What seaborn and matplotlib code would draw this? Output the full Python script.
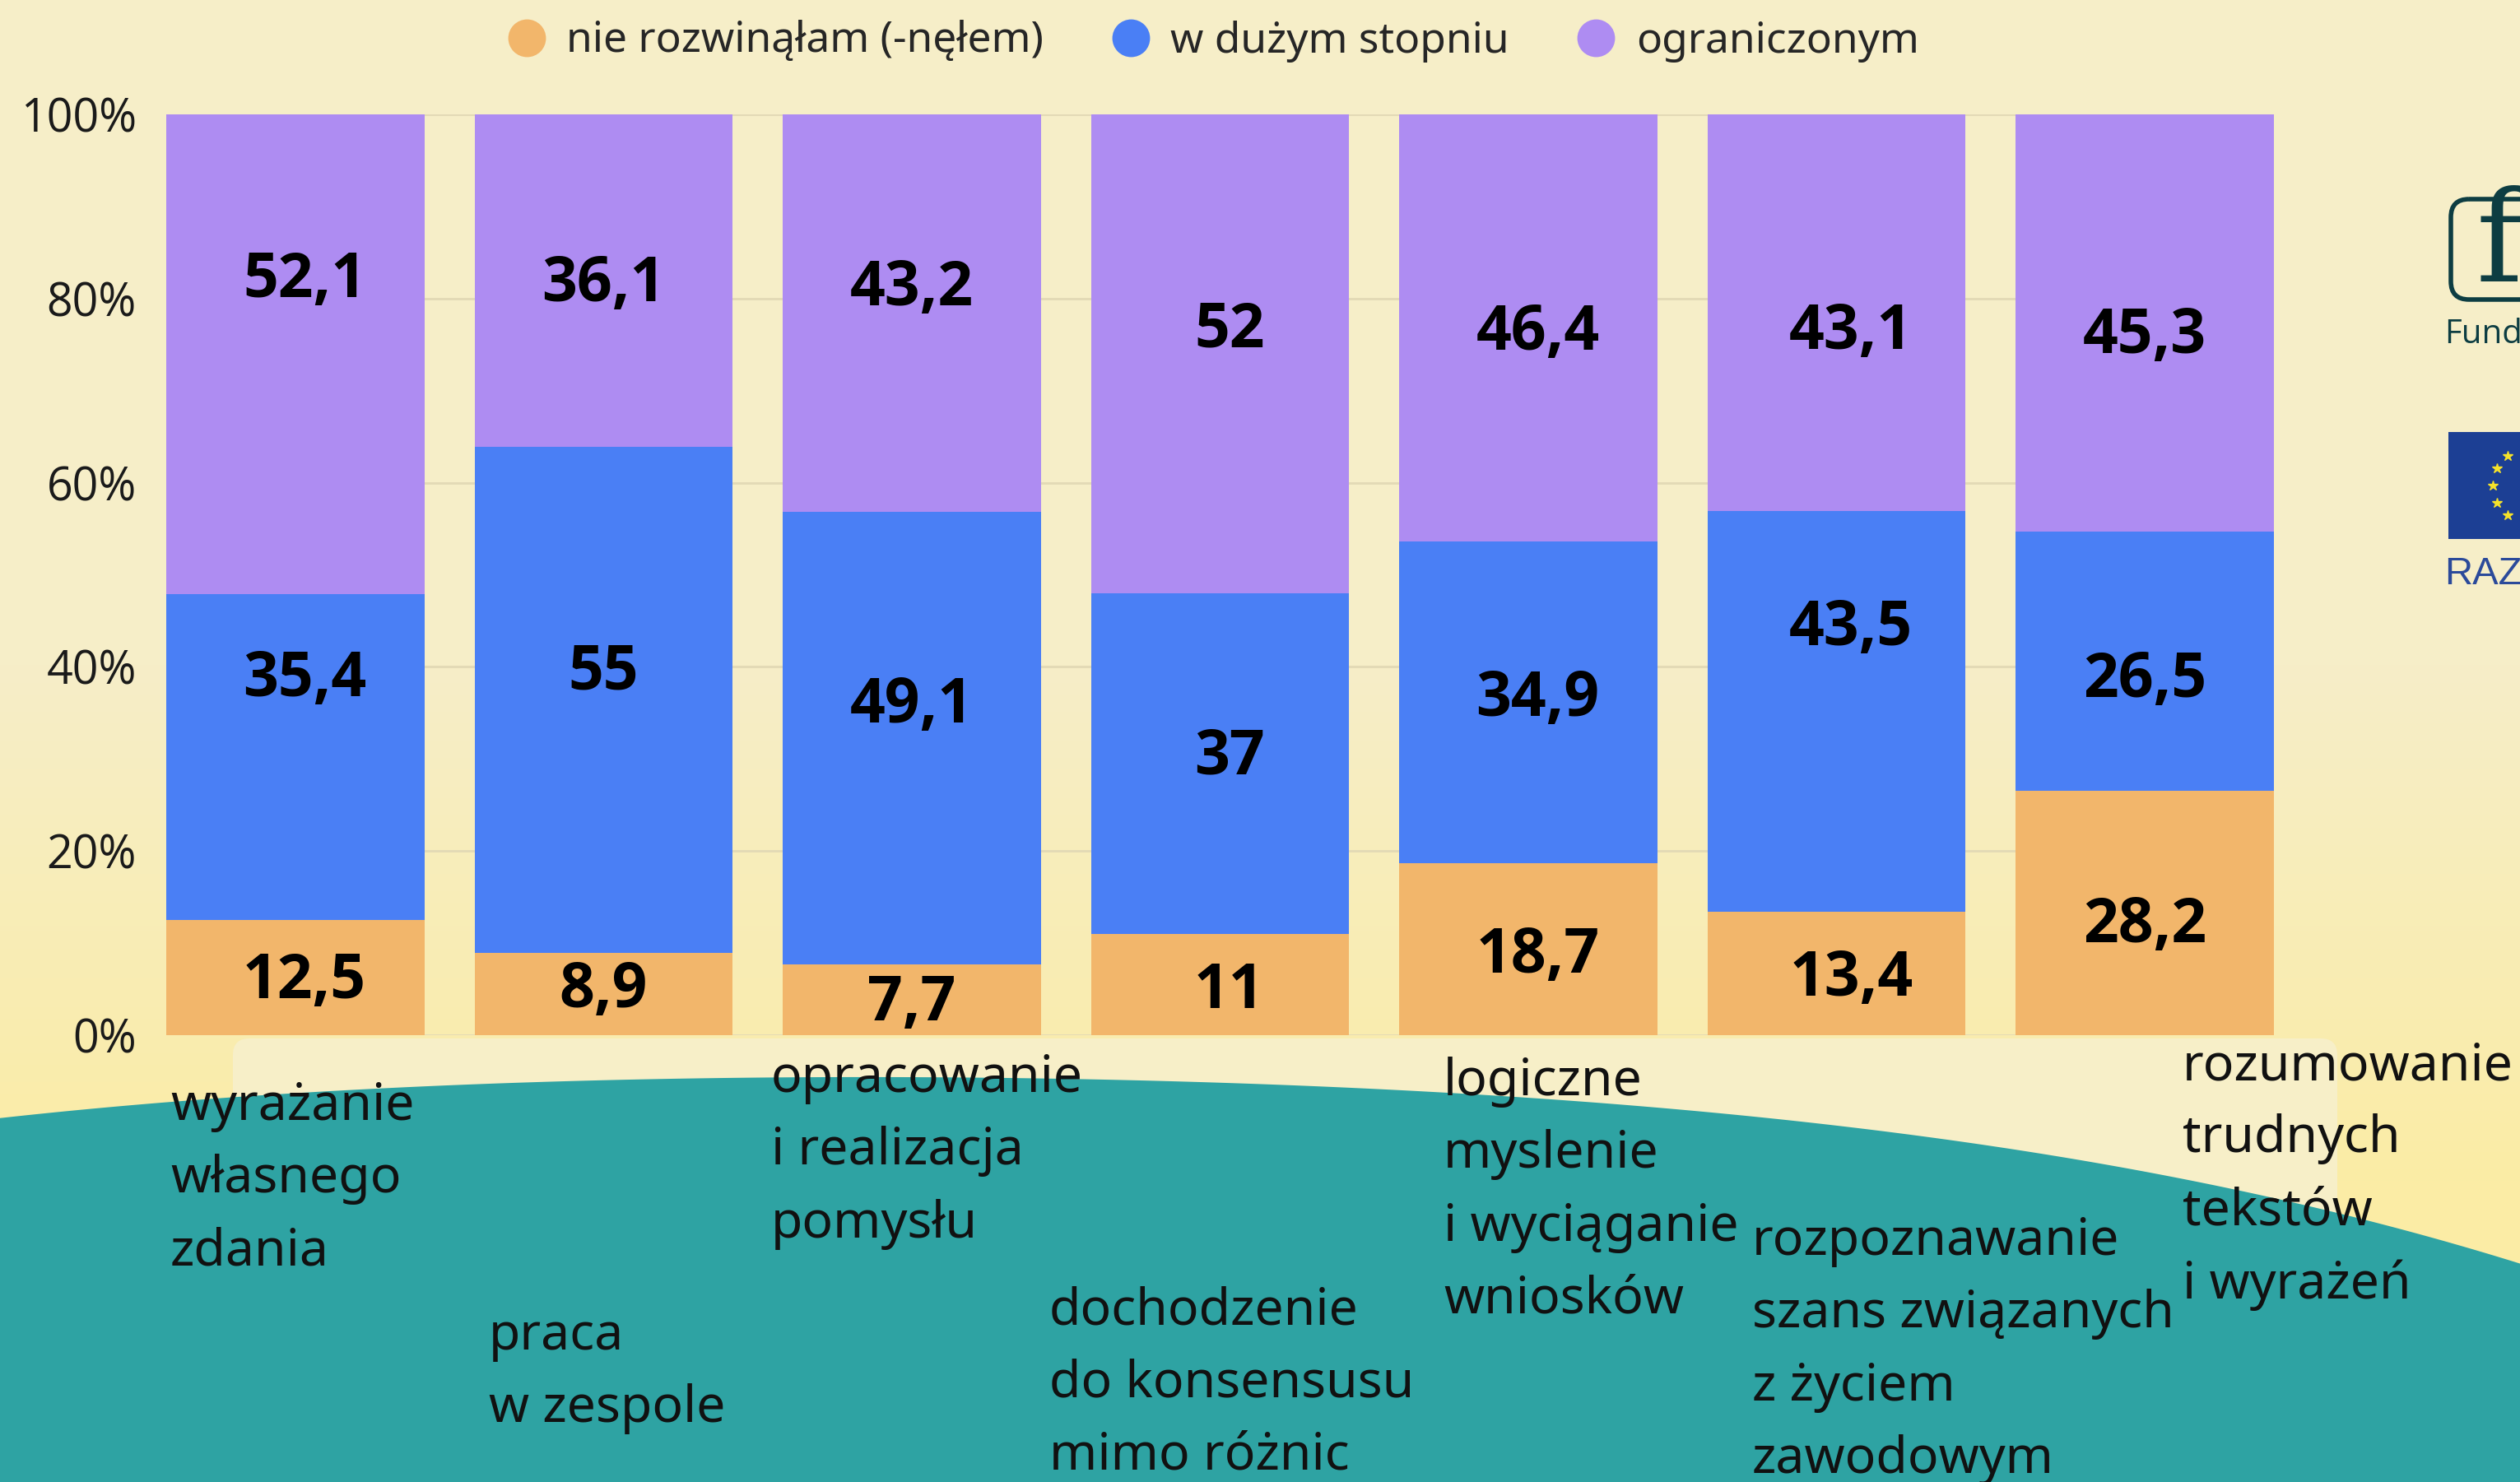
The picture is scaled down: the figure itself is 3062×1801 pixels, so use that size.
import numpy as np
import pandas as pd
import matplotlib.pyplot as plt
import seaborn as sns
from matplotlib.lines import Line2D
from matplotlib.patches import FancyBboxPatch, Rectangle, Polygon

# dane
kategorie = ['wyrażanie\nwłasnego\nzdania', 'praca\nw zespole', 'opracowanie\ni realizacja\npomysłu',
             'dochodzenie\ndo konsensusu\nmimo różnic', 'logiczne\nmyslenie\ni wyciąganie\nwniosków',
             'rozpoznawanie\nszans związanych\nz życiem\nzawodowym', 'rozumowanie\ntrudnych\ntekstów\ni wyrażeń']
nie_rozwinalam = [12.5, 8.9, 7.7, 11.0, 18.7, 13.4, 26.5]
w_duzym = [35.4, 55.0, 49.1, 37.0, 34.9, 43.5, 28.2]
ograniczonym = [52.1, 36.1, 43.2, 52.0, 46.4, 43.1, 45.3]
etyk_nie = ['12,5', '8,9', '7,7', '11', '18,7', '13,4', '28,2']
etyk_duzym = ['35,4', '55', '49,1', '37', '34,9', '43,5', '26,5']
etyk_ogr = ['52,1', '36,1', '43,2', '52', '46,4', '43,1', '45,3']
serie = ['nie rozwinąłam (-nęłem)', 'w dużym stopniu', 'ograniczonym']
kolory = ['#F2B66B', '#4A7FF5', '#AE8CF2']

# przesunięcia etykiet (w punktach procentowych) jak na oryginale
nudge_ogr = [8.8, 0.3, 3.4, 3.3, 0.2, -1.4, -0.7]
nudge_duzym = [9.2, 3.7, 4.3, 1.4, 1.1, 9.8, -1.3]
nudge_nie = [0.3, 1.1, 0.3, 0.0, 0.0, 0.1, -0.6]
nudge_x = [0.03, 0.0, 0.0, 0.03, 0.03, 0.047, 0.0]

# pozycje podpisów kategorii (px: lewy brzeg, środek pierwszej linii)
pozycje_podpisow = [(207, 1344), (594, 1623), (937, 1310), (1275, 1592),
                    (1754, 1314), (2129, 1508), (2652, 1295)]

df = pd.DataFrame({'kat': kategorie, 'nie': nie_rozwinalam, 'duzym': w_duzym, 'ogr': ograniczonym})
df['c1'] = df['nie']
df['c2'] = df['nie'] + df['duzym']
df['c3'] = df['c2'] + df['ogr']

sns.set_style('white')
plt.rcParams['font.family'] = ['Open Sans', 'DejaVu Sans']

W, H = 3062, 1801
fig = plt.figure(figsize=(W / 100, H / 100), dpi=100)

# tło
bg = fig.add_axes([0, 0, 1, 1], zorder=-10)
bg.set_xlim(0, W)
bg.set_ylim(H, 0)
bg.axis('off')
grad = np.linspace(0, 1, 256).reshape(-1, 1)
grad = np.clip((grad - 0.45) / 0.35, 0, 1)
c_top = np.array([246, 238, 200]) / 255
c_bot = np.array([251, 236, 165]) / 255
img = c_top[None, None, :] * (1 - grad[:, :, None]) + c_bot[None, None, :] * grad[:, :, None]
bg.imshow(img, extent=[0, W, H, 0], aspect='auto')
bg.add_patch(FancyBboxPatch((283, 1262), 2840 - 283, 700, boxstyle='round,pad=0,rounding_size=20',
                            fc='#F7EFC8', ec='none'))
px = np.array([0, 204, 510, 918, 1500, 1755, 2214, 2496, 2697, 2895, 3062])
py = np.array([1358, 1340, 1322, 1308, 1315, 1328, 1371, 1401, 1440, 1489, 1536])
coef = np.polyfit(px, py, 4)
xs = np.linspace(0, W, 300)
ys = np.polyval(coef, xs)
bg.add_patch(Polygon(np.column_stack([np.r_[xs, W, 0], np.r_[ys, H, H]]), fc='#2EA3A3', ec='none'))

# loga (przycięte przy prawej krawędzi)
bg.add_patch(FancyBboxPatch((2978, 242), 150, 122, boxstyle='round,pad=0,rounding_size=22',
                            fc='none', ec='#0D3D42', lw=4))
bg.text(3008, 300, 'f', fontsize=110, family='DejaVu Serif', color='#0D3D42',
        ha='left', va='center')
bg.text(2970, 407, 'Funda', fontsize=29, color='#0D3D42', ha='left', va='center')
bg.add_patch(Rectangle((2975, 525), 120, 130, fc='#1C3F94', ec='none'))
for a in np.linspace(-60, 60, 5):
    r = np.deg2rad(a + 180)
    bg.plot(3045 + 42 * np.cos(r) * 0.85 + 20, 590 + 42 * np.sin(r), marker='*', color='#F5E22A',
            markersize=9, ls='none')
bg.text(2970, 698, 'RAZ', fontsize=34, color='#2B4A9A', ha='left', va='center', family='Liberation Sans')

# wykres
ax = fig.add_axes([202 / W, 1 - 1258 / H, (2763 - 202) / W, (1258 - 139) / H])
ax.set_facecolor('none')
for col, kol in zip(['c3', 'c2', 'c1'], kolory[::-1]):
    sns.barplot(data=df, x='kat', y=col, color=kol, saturation=1, width=0.837, ax=ax,
                edgecolor='none', linewidth=0, zorder=2)
ax.set_xlim(-0.4185, 6.4185)
ax.set_ylim(0, 100)
ax.set_yticks(range(0, 101, 20))
ax.set_yticklabels([f'{v}%' for v in range(0, 101, 20)])
ax.tick_params(axis='y', length=0, pad=26, labelsize=40, labelcolor='#1a1a1a')
ax.set_xticks([])
ax.set_xlabel('')
ax.set_ylabel('')
ax.yaxis.grid(True, color='#E2D9B5', lw=2)
ax.set_axisbelow(True)
sns.despine(ax=ax, left=True, bottom=True)

for i in range(len(kategorie)):
    c1, c2 = df['c1'][i], df['c2'][i]
    xi = i + nudge_x[i]
    ax.text(xi, c1 / 2 + nudge_nie[i], etyk_nie[i], ha='center', va='center_baseline',
            fontsize=54, fontweight='bold', color='black', zorder=5)
    ax.text(xi, (c1 + c2) / 2 + nudge_duzym[i], etyk_duzym[i], ha='center', va='center_baseline',
            fontsize=54, fontweight='bold', color='black', zorder=5)
    ax.text(xi, (c2 + 100) / 2 + nudge_ogr[i], etyk_ogr[i], ha='center', va='center_baseline',
            fontsize=54, fontweight='bold', color='black', zorder=5)

# podpisy kategorii
for tekst, (x, y) in zip(kategorie, pozycje_podpisow):
    fig.text(x / W, 1 - (y - 30) / H, tekst, ha='left', va='top', fontsize=45, family='Noto Sans',
             linespacing=1.56, color='#111111')

# legenda
uchwyty = [Line2D([0], [0], marker='o', ls='none', markersize=33, markerfacecolor=k, markeredgecolor='none')
           for k in kolory]
fig.legend(uchwyty, serie, loc='center', bbox_to_anchor=(1473 / W, 1 - 50 / H), ncol=3, frameon=False,
           handlelength=1.0, handletextpad=0.45, columnspacing=1.55,
           prop={'family': 'Noto Sans', 'size': 37})

plt.savefig('out.png', dpi=100)
